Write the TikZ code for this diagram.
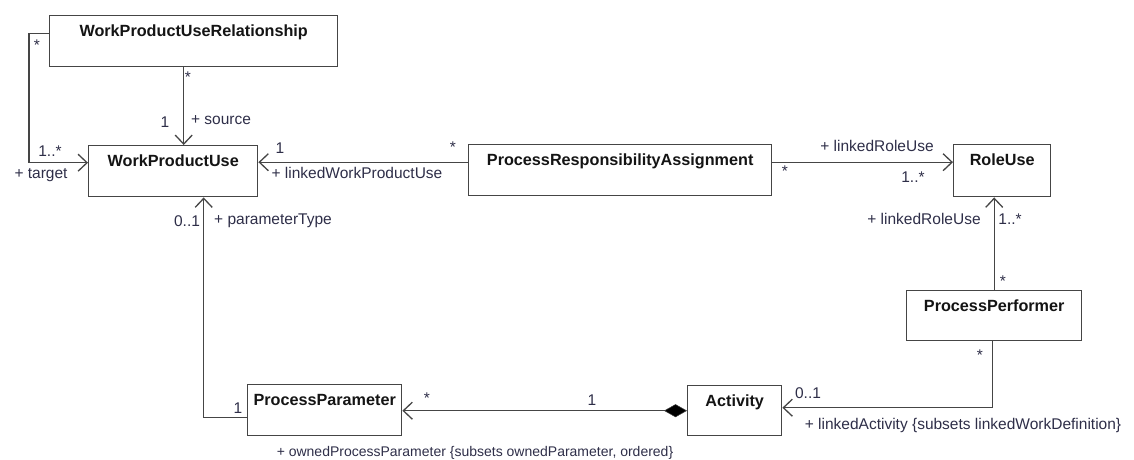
\documentclass[tikz,border=0pt]{standalone}
\usepackage{fontspec}
\setmainfont{Liberation Sans}
\usetikzlibrary{arrows.meta}
\definecolor{lc}{HTML}{454545}
\definecolor{tc}{HTML}{141414}
\definecolor{labc}{HTML}{2E2E48}
\tikzset{
  box/.style={draw=lc, line width=1.4pt, fill=white, rectangle, inner sep=0pt, anchor=north west,
     text=tc, font=\fontsize{16.2}{18}\selectfont\bfseries, text height=21pt},
  lab/.style={text=labc, font=\fontsize{15.5}{17}\selectfont, inner sep=0pt},
  uarr/.style={draw=lc, line width=1.4pt, -{Straight Barb[length=9pt,width=17pt,line width=1.3pt]}},
  comp/.style={draw=lc, line width=1.4pt, {Diamond[length=23pt,width=13pt,fill=black,line width=0.5pt]}-{Straight Barb[length=9pt,width=17pt,line width=1.3pt]}}
}
\begin{document}
\begin{tikzpicture}[x=1pt,y=-1pt]
\useasboundingbox (0,0) rectangle (1134,459);
% boxes
\node[box, minimum width=288pt, minimum height=51pt, text depth=30pt] (wpur) at (49,15) {WorkProductUseRelationship};
\node[box, minimum width=169pt, minimum height=51pt, text depth=30pt] (wpu) at (88,145) {WorkProductUse};
\node[box, minimum width=303pt, minimum height=51pt, text depth=30pt] (pra) at (468,144) {ProcessResponsibilityAssignment};
\node[box, minimum width=97pt, minimum height=52pt, text depth=31pt] (ru) at (953,144) {RoleUse};
\node[box, minimum width=175pt, minimum height=50pt, text depth=29pt] (pp) at (906,290) {ProcessPerformer};
\node[box, minimum width=94pt, minimum height=50pt, text depth=29pt] (act) at (687,385) {Activity};
\node[box, minimum width=154pt, minimum height=51pt, text depth=30pt] (ppar) at (247,384) {ProcessParameter};
% connectors
\draw[uarr] ([xshift=-10pt]wpur.south) -- ([xshift=-10pt]wpur.south |- wpu.north);
\draw[uarr] ([yshift=7.5pt]wpur.west) -- ++(-20,0) |- ([yshift=8.5pt]wpu.west);
\draw[uarr] ([yshift=8pt]pra.west) -- ([yshift=8pt]pra.west -| wpu.east);
\draw[uarr] ([yshift=8pt]pra.east) -- ([yshift=8pt]pra.east -| ru.west);
\draw[uarr] ([xshift=-8pt]ru.south |- pp.north) -- ([xshift=-8pt]ru.south);
\draw[uarr] ([xshift=-2pt]pp.south) |- ([yshift=3pt]act.east);
\draw[comp] (act.west) -- (act.west -| ppar.east);
\draw[uarr] ([yshift=-7.5pt]ppar.west) -| ([xshift=30.5pt]wpu.south);
% labels
\node[lab] (l1) at (188,77) {*};
\node[lab] (l2) at (165,122) {1};
\node[lab] (l3) at (221,120) {+ source};
\node[lab] (l4) at (37,45) {*};
\node[lab] (l5) at (50,151) {1..*};
\node[lab] (l6) at (41,175) {+ target};
\node[lab] (l7) at (280,148) {1};
\node[lab] (l8) at (357,173) {+ linkedWorkProductUse};
\node[lab] (l9) at (187,221) {0..1};
\node[lab] (l10) at (273,221) {+ parameterType};
\node[lab] (l11) at (453,147) {*};
\node[lab] (l12) at (785,171) {*};
\node[lab] (l13) at (877,146) {+ linkedRoleUse};
\node[lab] (l14) at (913,177) {1..*};
\node[lab] (l15) at (924,219) {+ linkedRoleUse};
\node[lab] (l16) at (1010,219) {1..*};
\node[lab] (l17) at (1003,281) {*};
\node[lab] (l18) at (980,355) {*};
\node[lab] (l19) at (808,393) {0..1};
\node[lab] (l20) at (963,425) {+ linkedActivity {\{}subsets linkedWorkDefinition{\}}};
\node[lab] (l21) at (427,398) {*};
\node[lab] (l22) at (592,400) {1};
\node[lab] (l23) at (238,408) {1};
\node[lab, font=\fontsize{14}{16}\selectfont] (l24) at (475,453) {+ ownedProcessParameter {\{}subsets ownedParameter, ordered{\}}};
\end{tikzpicture}
\end{document}
